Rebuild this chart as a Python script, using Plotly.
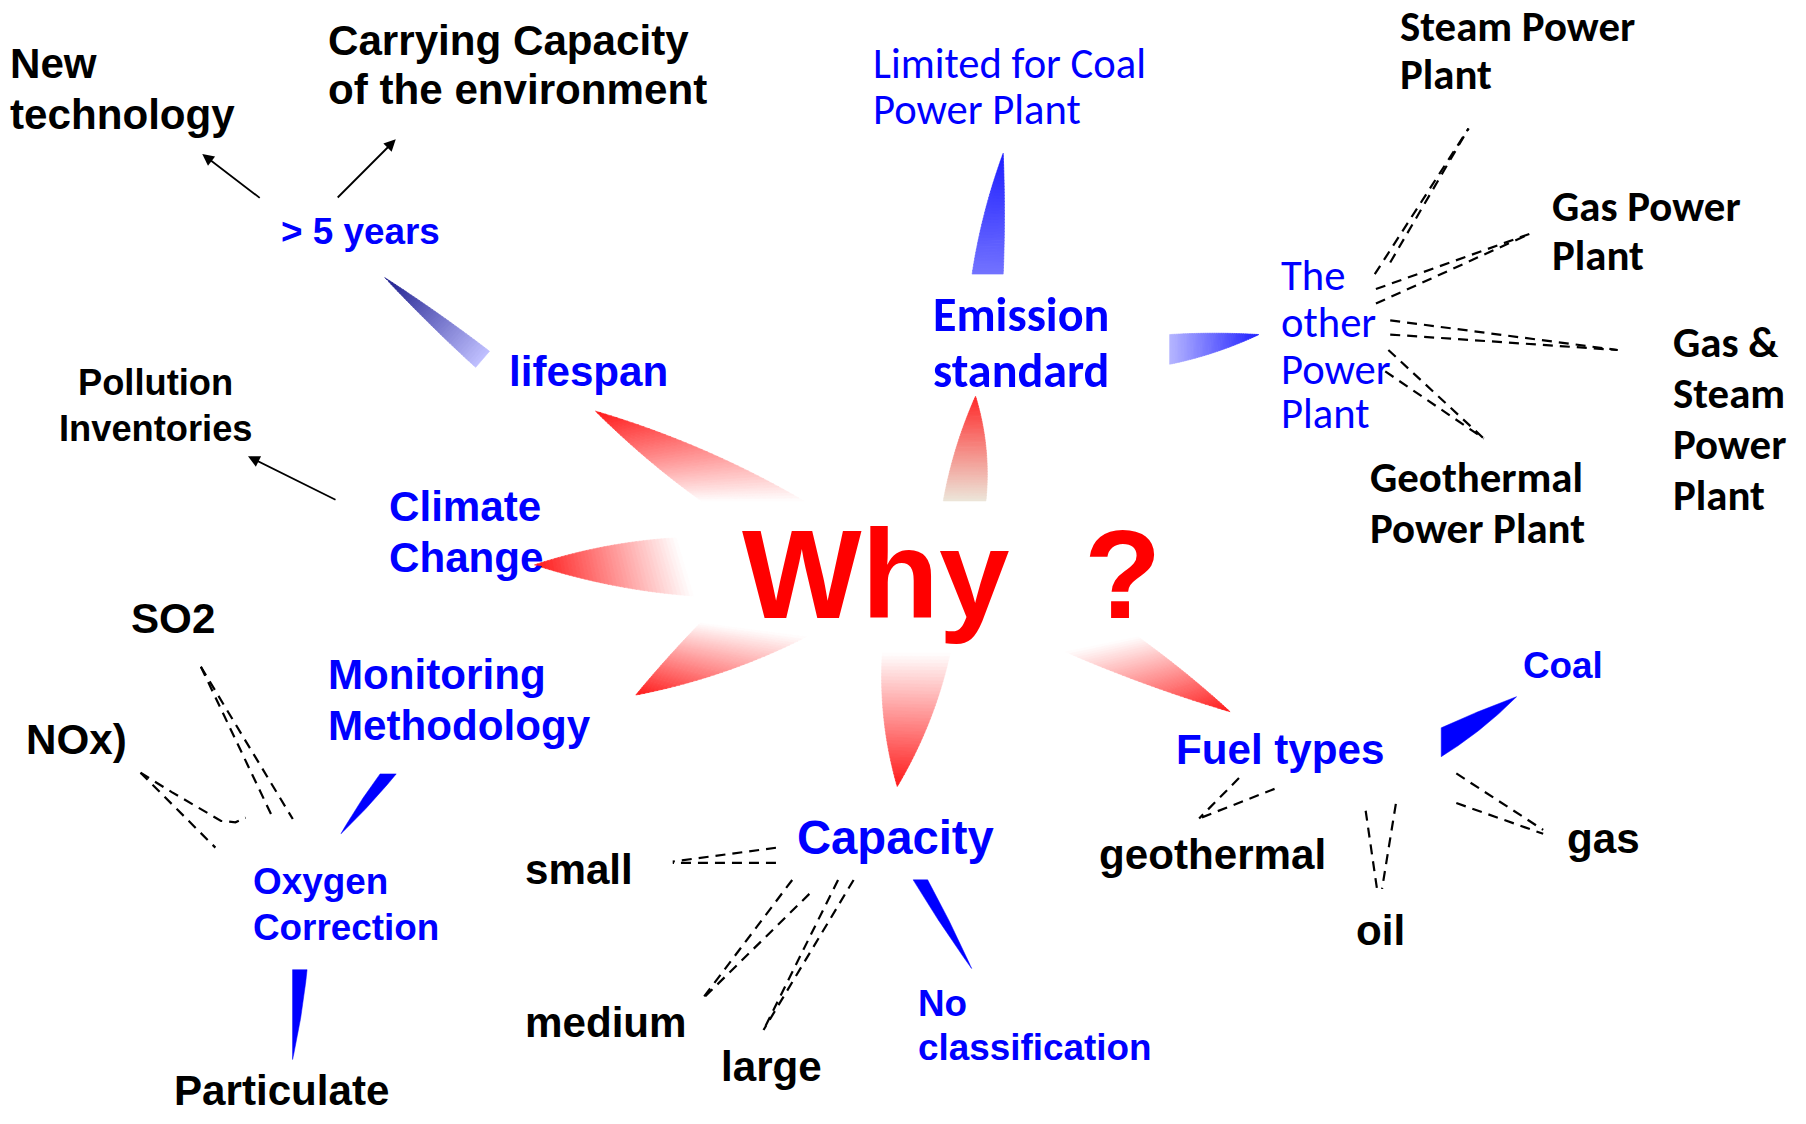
import numpy as np
import plotly.graph_objects as go

FIG_W, FIG_H = 1806, 1124
VIEW_W, VIEW_H = 1568, 976          # drawing coordinate system
K = FIG_W / VIEW_W                  # px per drawing unit
PAGE_OFF = 8 / K                    # compensate the page's default body margin

# ---------------- text nodes ----------------
# black, Arial-like bold
black_text = ["New", "technology", "Carrying Capacity", "of the environment", "SO2", "NOx)",
              "Particulate", "small", "medium", "large", "geothermal", "oil", "gas"]
black_x = [7.5, 7.5, 284, 284, 113, 22, 150, 455, 455, 625, 953, 1176, 1360]
black_y = [55, 99, 35, 78, 537, 642, 947, 755, 888, 926, 742, 808, 728]

pollution_text = ["Pollution", "Inventories"]
pollution_x = [135, 135]
pollution_y = [332, 372]

# blue, Arial-like bold
blue_text = ["lifespan", "Climate", "Change", "Monitoring", "Methodology", "Fuel types"]
blue_x = [441, 337, 337, 284, 284, 1020]
blue_y = [323, 440, 484, 586, 630, 651]

blue_small_text = ["> 5 years", "Oxygen", "Correction", "No", "classification", "Coal"]
blue_small_x = [243, 219, 219, 796, 796, 1321]
blue_small_y = [201, 765, 805, 871, 910, 578]

capacity_text = ["Capacity"]
capacity_x = [691]
capacity_y = [727]

# Calibri-like texts
cal_blue_text = ["Limited for Coal", "Power Plant", "The", "other", "Power", "Plant"]
cal_blue_x = [757, 757, 1111, 1111, 1111, 1111]
cal_blue_y = [55, 95, 239, 280, 320, 359]

cal_blue_bold_text = ["Emission", "standard"]
cal_blue_bold_x = [809, 809]
cal_blue_bold_y = [273, 322]

cal_black_text = ["Steam Power", "Plant", "Gas Power", "Plant", "Gas &", "Steam", "Power", "Plant",
                  "Geothermal", "Power Plant"]
cal_black_x = [1215, 1215, 1347, 1347, 1452, 1452, 1452, 1452, 1189, 1189]
cal_black_y = [23, 65, 179, 222, 297, 342, 386, 430, 415, 459]

why_text = ["Why", "?"]
why_x = [643, 940]
why_y = [498, 498]

# ---------------- wedges ----------------
red_wedge_tip = [(517, 357), (464, 490.5), (552, 603.5), (779, 683), (1068, 618), (847, 344)]
red_wedge_b1 = [(609, 435), (587, 467), (608, 541), (766, 567), (925, 566), (819, 435)]
red_wedge_b2 = [(698, 435), (602, 517.5), (700, 553), (825, 567), (988, 553), (856, 435)]
red_wedge_bulge = [(0.04, 0.06), (0.065, 0.06), (0.02, 0.07), (0.085, 0.08), (0.03, 0.03), (0.06, 0.1)]
red_wedge_tipcol = [(255, 25, 25)] * 5 + [(255, 40, 40)]
red_wedge_basecol = [(255, 255, 255)] * 5 + [(236, 230, 218)]

blue_grad_tip = [(334, 241), (871, 133), (1093, 290.5)]
blue_grad_b1 = [(413, 319), (844, 238), (1015.5, 290.5)]
blue_grad_b2 = [(425, 305), (871, 238), (1015.5, 316.3)]
blue_grad_bulge = [(0.02, 0.02), (0.05, 0.02), (0.03, 0.06)]
blue_grad_tipcol = [(28, 28, 140), (30, 30, 255), (30, 30, 255)]
blue_grad_basecol = [(192, 192, 255), (115, 115, 255), (182, 182, 255)]

blue_solid_tip = [(296, 724), (254, 920), (843.6, 841), (1316.7, 605)]
blue_solid_b1 = [(330, 672), (254, 842), (792.8, 764), (1251.3, 632)]
blue_solid_b2 = [(344, 672), (266.6, 842), (805.4, 764), (1251.3, 657)]
blue_solid_bulge = [(0.03, 0.03), (0.0, 0.03), (0.02, 0.02), (0.02, 0.06)]

# ---------------- dashed connectors ----------------
dash_lines = [
    [(1193.6, 238.1), (1275, 111.6)], [(1207, 227.9), (1275, 111.6)],
    [(1194.6, 251), (1328.4, 203)], [(1194.6, 263.6), (1328.4, 203)],
    [(1207, 278.2), (1404.4, 303.9)], [(1207, 290.5), (1404.4, 303.9)],
    [(1205.4, 303.9), (1288.3, 380.8)], [(1202.7, 322.5), (1288.3, 380.8)],
    [(673.7, 736.1), (584.1, 748.1)], [(673.7, 749.3), (584.1, 749.3)],
    [(687.8, 764.1), (609, 868.4)], [(702.7, 776.2), (609, 868.4)],
    [(727.6, 764.1), (662.9, 894.4)], [(741.1, 764.1), (662.9, 894.4)],
    [(174.4, 579), (236.8, 710)], [(174.4, 579), (254.2, 711.2)],
    [(122, 671), (187, 736)], [(122, 671), (149.5, 688), (191.9, 712.8), (204.4, 714), (213.3, 710)],
    [(1075.7, 675.6), (1041.1, 710.7)], [(1106.6, 685), (1041.1, 710.7)],
    [(1185.7, 704), (1196.2, 776.5)], [(1211.9, 698), (1199.9, 771.8)],
    [(1264.4, 671.6), (1339.8, 720.6)], [(1264.4, 697.3), (1339.8, 724)],
]

# ---------------- arrows (tail -> head) ----------------
arrow_tail = [(226.8, 172.8), (291.9, 172.8), (292.6, 434.6)]
arrow_head = [(175.6, 133.7), (343.6, 121), (215.3, 396.2)]


# ================= drawing helpers =================
def qbez(p0, c, p1, t):
    p0, c, p1 = map(np.asarray, (p0, c, p1))
    t = np.asarray(t)[:, None]
    return (1 - t) ** 2 * p0 + 2 * (1 - t) * t * c + t ** 2 * p1


def control(b, tip, other, bulge):
    b, tip, other = map(lambda p: np.asarray(p, float), (b, tip, other))
    d = tip - b
    L = np.hypot(*d)
    n = np.array([-d[1], d[0]]) / L
    if np.dot(n, other - b) > 0:
        n = -n
    return (b + tip) / 2 + bulge * L * n


def rgb(c):
    return "rgb(%d,%d,%d)" % tuple(int(round(v)) for v in c)


fig = go.Figure()


def gradient_wedge(tip, b1, b2, bulges, tipcol, basecol, n=40):
    c1 = control(b1, tip, b2, bulges[0])
    c2 = control(b2, tip, b1, bulges[1])
    for i in range(n):
        t0, t1 = i / n, min(1.0, (i + 1.15) / n)
        ts = np.linspace(t0, t1, 4)
        e1 = qbez(b1, c1, tip, ts)
        e2 = qbez(b2, c2, tip, ts)[::-1]
        poly = np.vstack([e1, e2, e1[:1]])
        s = (i + 0.5) / n
        col = tuple(basecol[k] + (tipcol[k] - basecol[k]) * s for k in range(3))
        fig.add_trace(go.Scatter(x=poly[:, 0], y=poly[:, 1], mode="lines", fill="toself",
                                 fillcolor=rgb(col), line=dict(color=rgb(col), width=0.6),
                                 hoverinfo="skip", showlegend=False))


def solid_wedge(tip, b1, b2, bulges, color="#0000ff"):
    c1 = control(b1, tip, b2, bulges[0])
    c2 = control(b2, tip, b1, bulges[1])
    ts = np.linspace(0, 1, 30)
    e1 = qbez(b1, c1, tip, ts)
    e2 = qbez(b2, c2, tip, ts)[::-1]
    poly = np.vstack([e1, e2, e1[:1]])
    fig.add_trace(go.Scatter(x=poly[:, 0], y=poly[:, 1], mode="lines", fill="toself",
                             fillcolor=color, line=dict(color=color, width=0.5),
                             hoverinfo="skip", showlegend=False))


for i in range(len(red_wedge_tip)):
    gradient_wedge(red_wedge_tip[i], red_wedge_b1[i], red_wedge_b2[i], red_wedge_bulge[i],
                   red_wedge_tipcol[i], red_wedge_basecol[i])
for i in range(len(blue_grad_tip)):
    gradient_wedge(blue_grad_tip[i], blue_grad_b1[i], blue_grad_b2[i], blue_grad_bulge[i],
                   blue_grad_tipcol[i], blue_grad_basecol[i])
for i in range(len(blue_solid_tip)):
    solid_wedge(blue_solid_tip[i], blue_solid_b1[i], blue_solid_b2[i], blue_solid_bulge[i])

for pts in dash_lines:
    xs = [p[0] for p in pts]
    ys = [p[1] for p in pts]
    fig.add_trace(go.Scatter(x=xs, y=ys, mode="lines",
                             line=dict(color="black", width=2.2, dash="10px,7px"),
                             hoverinfo="skip", showlegend=False))

annotations = []
ARIAL = "Liberation Sans, Arial, sans-serif"
CALIBRI = "Carlito, Lato, sans-serif"


def to_paper(x, y):
    # drawing units -> paper fraction (paper refs may lie outside the axis range)
    return (x - PAGE_OFF) / VIEW_W, 1 - (y - PAGE_OFF) / VIEW_H


def add_texts(texts, xs, ys, family, size_units, color, weight="bold", xanchor="left"):
    for t, x, y in zip(texts, xs, ys):
        px, py = to_paper(x, y)
        annotations.append(dict(text=t, x=px, y=py, xref="paper", yref="paper", showarrow=False,
                                xanchor=xanchor, yanchor="middle", borderpad=0,
                                font=dict(family=family, size=size_units * K, color=color,
                                          weight=weight)))


add_texts(black_text, black_x, black_y, ARIAL, 36.6, "black")
add_texts(pollution_text, pollution_x, pollution_y, ARIAL, 31.5, "black", xanchor="center")
add_texts(blue_text, blue_x, blue_y, ARIAL, 36.6, "#0000ff")
add_texts(blue_small_text, blue_small_x, blue_small_y, ARIAL, 32, "#0000ff")
add_texts(capacity_text, capacity_x, capacity_y, ARIAL, 41, "#0000ff")
add_texts(cal_blue_text, cal_blue_x, cal_blue_y, CALIBRI, 37, "#0000ff", weight="normal")
add_texts(cal_blue_bold_text, cal_blue_bold_x, cal_blue_bold_y, CALIBRI, 41.8, "#0000ff")
add_texts(cal_black_text, cal_black_x, cal_black_y, CALIBRI, 37.2, "black")
add_texts(why_text, why_x, why_y, ARIAL, 110, "#ff0000")

for (tx, ty), (hx, hy) in zip(arrow_tail, arrow_head):
    annotations.append(dict(x=hx, y=hy, ax=tx, ay=ty, xref="x", yref="y", axref="x", ayref="y",
                            text="", showarrow=True, arrowhead=2, arrowsize=1.3,
                            arrowwidth=1.8, arrowcolor="black", standoff=0, startstandoff=0))

fig.update_layout(
    width=FIG_W, height=FIG_H,
    margin=dict(l=0, r=0, t=0, b=0),
    paper_bgcolor="white", plot_bgcolor="white",
    xaxis=dict(range=[PAGE_OFF, VIEW_W + PAGE_OFF], visible=False, showgrid=False,
               zeroline=False, fixedrange=True),
    yaxis=dict(range=[VIEW_H + PAGE_OFF, PAGE_OFF], visible=False, showgrid=False,
               zeroline=False, fixedrange=True),
    annotations=annotations,
    showlegend=False,
    hovermode=False,
)

fig.write_html("out.html", include_plotlyjs=True, config={"displayModeBar": False})
